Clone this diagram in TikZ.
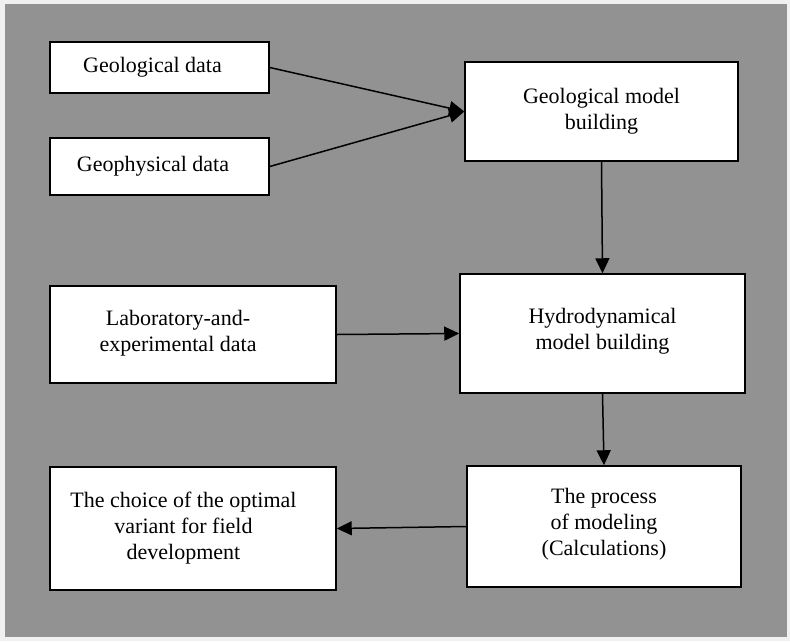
\documentclass[tikz,border=0pt]{standalone}
\usepackage{fontspec}
\setmainfont{Liberation Serif}
\usepackage{tikz}
\usetikzlibrary{arrows.meta}
\definecolor{frame}{HTML}{F0F0F0}
\definecolor{bg}{HTML}{929292}

\begin{document}
\begin{tikzpicture}[x=1pt, y=-1pt, font=\fontsize{22}{26}\selectfont,
  b/.style={draw, line width=1.5pt, fill=white, align=center, inner sep=0pt},
  t/.style={align=center, inner sep=0pt},
  fl/.style={-{Triangle[length=15pt, width=14pt]}, line width=1.5pt}]
  \fill[frame] (0,0) rectangle (790,641);
  \fill[bg] (5,4) rectangle (787,637);
  \node[b, minimum width=219pt, minimum height=51pt, label={[t, xshift=-7pt]center:Geological data}] (geod) at (159.5,67.5) {};
  \node[b, minimum width=219pt, minimum height=57pt, label={[t, xshift=-6.5pt]center:Geophysical data}] (geoph) at (159.5,166.5) {};
  \node[b, minimum width=273pt, minimum height=99pt] (geomod) at (601.5,111.5) {Geological model\\ building};
  \node[b, minimum width=286pt, minimum height=97pt, label={[t, xshift=-15pt, yshift=1pt]center:{Laboratory-and-\\ experimental data}}] (lab) at (193,334.5) {};
  \node[b, minimum width=285pt, minimum height=119pt, text depth=10pt] (hydro) at (602.5,333.5) {Hydrodynamical\\ model building};
  \node[b, minimum width=274pt, minimum height=121pt, text depth=10pt] (proc) at (604,526.5) {The process\\ of modeling\\ (Calculations)};
  \node[b, minimum width=286pt, minimum height=123pt, label={[t, xshift=-9.5pt]center:{The choice of the optimal\\ variant for field\\ development}}] (choice) at (193,528.5) {};
  \draw[fl] (geod.east)--(geomod.west); \draw[fl] (geoph.east)--(geomod.west);
  \draw[fl] (geomod.south)--(hydro.north);
  \draw[fl] (lab.east)--(hydro.west);
  \draw[fl] (hydro.south)--(proc.north);
  \draw[fl] (proc.west)--(choice.east);
\end{tikzpicture}
\end{document}
